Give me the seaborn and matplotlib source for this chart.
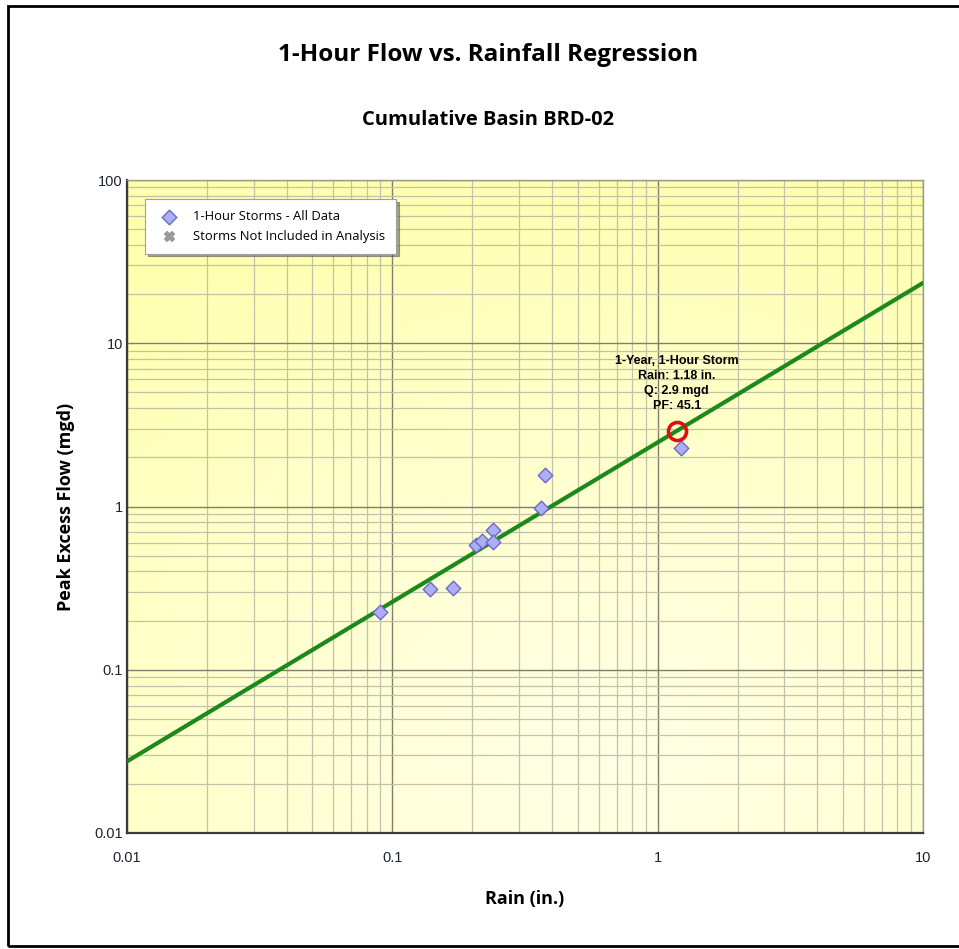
import numpy as np
import pandas as pd
import matplotlib.pyplot as plt
import seaborn as sns
from matplotlib.patches import Rectangle
from matplotlib.ticker import LogLocator, FixedLocator, FixedFormatter, NullFormatter

# storm data
rain = [0.09, 0.139, 0.17, 0.207, 0.218, 0.24, 0.24, 0.363, 0.376, 1.225]
flow = [0.226, 0.313, 0.315, 0.58, 0.615, 0.718, 0.606, 0.98, 1.56, 2.28]
excl_rain = []
excl_flow = []

# regression Q = a * R^b
reg_a = 2.47
reg_b = 0.977

# design storm
design_rain = 1.18
design_q = 2.9
design_pf = 45.1

x_ticks = [0.01, 0.1, 1, 10]
x_labels = ['0.01', '0.1', '1', '10']
y_ticks = [0.01, 0.1, 1, 10, 100]
y_labels = ['0.01', '0.1', '1', '10', '100']

sns.set_style('white')
plt.rcParams['font.family'] = ['Liberation Sans', 'DejaVu Sans']
plt.rcParams['text.color'] = 'black'
plt.rcParams['axes.labelcolor'] = 'black'

fig = plt.figure(figsize=(9.59, 9.49), dpi=100)
ax = fig.add_axes([127 / 959, 1 - 833 / 949, 796 / 959, 653 / 949])
ax.set_xscale('log')
ax.set_yscale('log')
ax.set_xlim(x_ticks[0], x_ticks[-1])
ax.set_ylim(y_ticks[0], y_ticks[-1])

# yellow gradient background
gx, gy = np.meshgrid(np.linspace(0, 1, 300), np.linspace(0, 1, 300))
d = np.sqrt((gx - 0.6) ** 2 + ((gy - 0.1) * 1.1) ** 2)
t = np.clip(d / 1.05, 0, 1) ** 1.2
pale = np.array([1.0, 1.0, 0.90])
deep = np.array([1.0, 1.0, 0.68])
img = pale[None, None, :] * (1 - t[..., None]) + deep[None, None, :] * t[..., None]
ax.imshow(img, extent=[0, 1, 0, 1], transform=ax.transAxes, origin='lower',
          aspect='auto', zorder=0, interpolation='bilinear')

# grid
ax.xaxis.set_major_locator(FixedLocator(x_ticks))
ax.xaxis.set_major_formatter(FixedFormatter(x_labels))
ax.yaxis.set_major_locator(FixedLocator(y_ticks))
ax.yaxis.set_major_formatter(FixedFormatter(y_labels))
ax.xaxis.set_minor_locator(LogLocator(base=10, subs=np.arange(2, 10)))
ax.yaxis.set_minor_locator(LogLocator(base=10, subs=np.arange(2, 10)))
ax.xaxis.set_minor_formatter(NullFormatter())
ax.yaxis.set_minor_formatter(NullFormatter())
ax.grid(True, which='major', color='#7f7f6c', lw=1.0, zorder=1)
ax.grid(True, which='minor', color='#c2c2aa', lw=0.9, zorder=1)
ax.set_axisbelow(True)
ax.tick_params(which='both', length=0, labelsize=10.5, labelcolor='#1c2433')
ax.tick_params(axis='x', pad=13)
ax.tick_params(axis='y', pad=3)

for side in ['left', 'bottom']:
    ax.spines[side].set_color('#3a3a3a')
    ax.spines[side].set_linewidth(1.6)
for side in ['right', 'top']:
    ax.spines[side].set_color('#9a9a8a')
    ax.spines[side].set_linewidth(1.0)

# regression line
line_x = np.array([x_ticks[0], x_ticks[-1]])
reg_df = pd.DataFrame({'x': line_x, 'y': reg_a * line_x ** reg_b})
sns.lineplot(data=reg_df, x='x', y='y', ax=ax, color='#1b8a1b', lw=3, zorder=3,
             legend=False)

# storms
pts = pd.DataFrame({'rain': rain, 'flow': flow})
sns.scatterplot(data=pts, x='rain', y='flow', ax=ax, marker='D', s=55,
                color='#aeaef2', edgecolor='#6a6ad0', linewidth=1.0, zorder=4,
                label='1-Hour Storms - All Data')
ax.scatter(excl_rain, excl_flow, marker='X', s=50, color='#9a9a9a',
           zorder=4, label='Storms Not Included in Analysis')

# design storm marker
ax.plot([design_rain], [design_q], marker='o', ms=13, mfc='none', mec='#e01010',
        mew=2.6, zorder=5, ls='none')
ax.annotate('1-Year, 1-Hour Storm\nRain: %.2f in.\nQ: %.1f mgd\nPF: %.1f'
            % (design_rain, design_q, design_pf),
            xy=(design_rain, design_q), xytext=(0, 14), textcoords='offset points',
            ha='center', va='bottom', fontsize=9, fontweight='bold',
            family=['Liberation Sans Narrow', 'Liberation Sans'],
            linespacing=1.3, zorder=6)

leg = ax.legend(loc='upper left', bbox_to_anchor=(0.0226, 0.971), borderaxespad=0,
                fancybox=False, shadow=True, frameon=True,
                handletextpad=0.8, borderpad=0.85, labelspacing=0.5,
                prop={'family': ['Open Sans', 'DejaVu Sans'], 'size': 9.4})
leg.get_frame().set_edgecolor('#a0a0a0')
leg.get_frame().set_linewidth(0.8)
leg.get_frame().set_facecolor('white')

ax.set_xlabel('Rain (in.)', fontsize=13, family=['Open Sans', 'DejaVu Sans'],
              fontweight='bold', labelpad=18)
ax.set_ylabel('Peak Excess Flow (mgd)', fontsize=13, family=['Open Sans', 'DejaVu Sans'],
              fontweight='bold', labelpad=14)

fig.text(488 / 959, 1 - 55 / 949, '1-Hour Flow vs. Rainfall Regression',
         ha='center', va='center', fontsize=17.5, fontweight='bold',
         family=['Open Sans', 'DejaVu Sans'])
fig.text(488 / 959, 1 - 120 / 949, 'Cumulative Basin BRD-02',
         ha='center', va='center', fontsize=14.5, fontweight='bold',
         family=['Open Sans', 'DejaVu Sans'])

# outer frame
fig.patches.append(Rectangle((8 / 959, 1 - 946 / 949), 1.0, 940 / 949,
                             transform=fig.transFigure, fill=False,
                             edgecolor='black', lw=2))

fig.savefig('out.png', dpi=100)
